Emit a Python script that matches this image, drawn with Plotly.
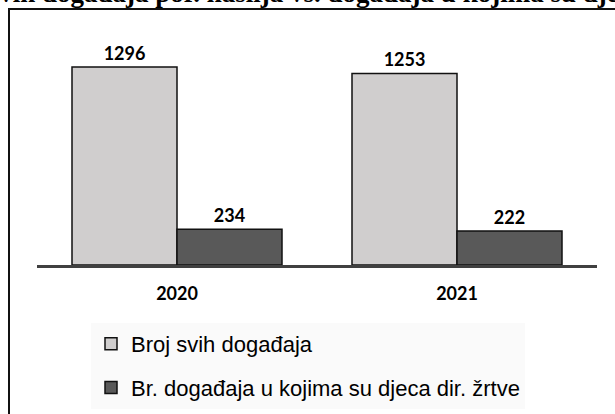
import plotly.graph_objects as go

categories = ["2020", "2021"]
series_names = ["Broj svih događaja", "Br. događaja u kojima su djeca dir. žrtve"]
all_events = [1296, 1253]
child_events = [234, 222]
title_text = "Broj svih događaja por. nasilja vs. događaja u kojima su djeca dir. žrtve"

W, H = 615, 414
ML, MR, MT, MB = 37, 18, 40, 149
PW, PH = W - ML - MR, H - MT - MB

def px_x(px):
    return (px - ML) / PW

def px_y(py):
    return (H - MB - py) / PH

colors = ["#d0cece", "#595959"]
fig = go.Figure()
for name, vals, col in zip(series_names, [all_events, child_events], colors):
    fig.add_trace(go.Bar(
        x=categories, y=vals, name=name, legendgroup=name,
        marker=dict(color=col, line=dict(color="#111111", width=1.5)),
        texttemplate="<b>%{y}</b>", textposition="outside", cliponaxis=False,
        textfont=dict(family="Lato", size=18, color="#000"),
        hoverinfo="skip",
    ))

# title (cropped in the reference)
fig.add_annotation(xref="paper", yref="paper", x=px_x(-72), y=px_y(10),
                   xanchor="left", yanchor="bottom", showarrow=False,
                   text=f"<b>{title_text}</b>",
                   font=dict(family="Liberation Serif", size=27, color="#000"))

# frame
fig.add_shape(type="rect", xref="paper", yref="paper",
              x0=px_x(9), x1=px_x(640), y0=px_y(9), y1=px_y(440),
              line=dict(color="#111111", width=2), fillcolor="rgba(0,0,0,0)", layer="below")

fig.update_layout(
    width=W, height=H,
    margin=dict(l=ML, r=MR, t=MT, b=MB, autoexpand=False),
    paper_bgcolor="white", plot_bgcolor="white",
    barmode="group", bargap=0.25, bargroupgap=0,
    showlegend=True,
    legend=dict(x=px_x(91), y=px_y(323), xanchor="left", yanchor="top",
                bgcolor="#fafafa", traceorder="grouped", tracegroupgap=12,
                font=dict(family="Liberation Sans", size=22, color="#000")),
    xaxis=dict(type="category", showline=True, linecolor="#404040", linewidth=3,
               ticks="outside", ticklen=10, tickcolor="rgba(0,0,0,0)",
               tickfont=dict(family="Lato", size=18, color="#000"),
               tickprefix="<b>", ticksuffix="</b>", range=[-0.5, 1.5]),
    yaxis=dict(range=[0, 1472], visible=False, showgrid=False),
)

fig.write_html("out.html", config={"displayModeBar": False})

with open("out.html", encoding="utf-8") as f:
    html = f.read()
html = html.replace("<head>", "<head><style>html,body{margin:0;padding:0;overflow:hidden;}</style>", 1)
with open("out.html", "w", encoding="utf-8") as f:
    f.write(html)
